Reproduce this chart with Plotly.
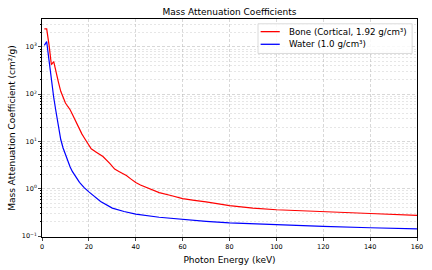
import plotly.graph_objects as go

bone_energy = [1, 2, 3, 4, 5, 6, 7, 8, 9, 10, 11, 12, 13, 14, 15, 16, 17, 18,
               20, 21, 23, 26, 29, 31, 33, 36, 38, 40, 42, 45, 50, 55, 60, 65, 70,
               80, 90, 100, 120, 140, 160]
bone_mu = [2400, 2400, 1100, 420, 490, 280, 180, 115, 85, 65, 55, 47, 37, 29, 22, 17.5, 14.5, 12,
           8.5, 7.0, 6.0, 4.8, 3.4, 2.6, 2.3, 1.9, 1.6, 1.35, 1.2, 1.05, 0.83, 0.72, 0.62, 0.57, 0.53,
           0.44, 0.39, 0.36, 0.325, 0.30, 0.275]

water_energy = [1, 2, 3, 4, 5, 6, 7, 8, 9, 10, 11, 12, 13, 14, 15, 16, 18, 20, 25, 30,
                35, 40, 50, 60, 70, 80, 100, 120, 140, 160]
water_mu = [1080, 1290, 520, 200, 85, 42, 19, 11, 7.3, 5.2, 3.8, 2.9, 2.3, 1.9, 1.6, 1.37, 1.06, 0.86,
            0.54, 0.39, 0.33, 0.29, 0.25, 0.225, 0.205, 0.19, 0.172, 0.16, 0.15, 0.142]

series_names = ["Bone (Cortical, 1.92 g/cm³)", "Water (1.0 g/cm³)"]
series_colors = ["red", "blue"]
title_text = "Mass Attenuation Coefficients"
x_label = "Photon Energy (keV)"
y_label = "Mass Attenuation Coefficient (cm²/g)"
x_ticks = [0, 20, 40, 60, 80, 100, 120, 140, 160]
y_ticks = [0.1, 1, 10, 100, 1000]
y_ticktext = ["10<sup>−1</sup>", "10<sup>0</sup>", "10<sup>1</sup>", "10<sup>2</sup>", "10<sup>3</sup>"]

FONT = "DejaVu Sans"
fig = go.Figure()
for xs, ys, nm, col in [(bone_energy, bone_mu, series_names[0], series_colors[0]),
                        (water_energy, water_mu, series_names[1], series_colors[1])]:
    fig.add_trace(go.Scatter(x=xs, y=ys, mode="lines", name=nm, showlegend=False,
                             line=dict(color=col, width=1.2)))

# manual legend (matplotlib-like compact box)
fig.add_shape(type="rect", xref="paper", yref="paper", x0=0.576, x1=0.987, y0=0.842, y1=0.978,
              line=dict(color="#d0d0d0", width=0.8), fillcolor="rgba(255,255,255,0.85)",
              layer="above")
legend_y = [0.942, 0.884]
for nm, col, ly in zip(series_names, series_colors, legend_y):
    fig.add_shape(type="line", xref="paper", yref="paper", x0=0.583, x1=0.634, y0=ly, y1=ly,
                  line=dict(color=col, width=1.3), layer="above")
    fig.add_annotation(text=nm, xref="paper", yref="paper", x=0.652, y=ly, xanchor="left",
                       yanchor="middle", showarrow=False, font=dict(size=8.7, family=FONT))

grid_col = "rgba(190,190,190,0.6)"
minor_col = "rgba(200,200,200,0.45)"
fig.update_layout(
    width=432, height=270,
    margin=dict(l=42, r=15, t=19, b=33),
    paper_bgcolor="white", plot_bgcolor="white",
    font=dict(family=FONT, size=7, color="black"),
    title=dict(text=title_text, x=0.5, xref="paper", xanchor="center", y=0.955, yanchor="middle",
               font=dict(size=9, family=FONT)),
    showlegend=False,
    xaxis=dict(range=[0, 160], tickvals=x_ticks, ticks="outside", ticklen=3, tickwidth=0.8,
               showline=True, linecolor="black", linewidth=0.8, mirror=True,
               showgrid=True, gridcolor=grid_col, griddash="3px,2px", gridwidth=0.6,
               zeroline=False, automargin=False,
               title=dict(text=x_label, font=dict(size=9), standoff=6),
               tickfont=dict(size=6.5)),
    yaxis=dict(type="log", range=[-1.02, 3.59], tickvals=y_ticks, ticktext=y_ticktext,
               ticks="outside", ticklen=3, tickwidth=0.8,
               showline=True, linecolor="black", linewidth=0.8, mirror=True,
               showgrid=True, gridcolor=grid_col, griddash="3px,2px", gridwidth=0.6,
               minor=dict(showgrid=True, gridcolor=minor_col, griddash="2px,2px", gridwidth=0.5,
                          ticks="outside", ticklen=1.5, tickcolor="black",
                          tickvals=[m * 10 ** e for e in range(-1, 4) for m in range(2, 10)]),
               zeroline=False, automargin=False,
               title=dict(text=y_label, font=dict(size=9), standoff=4),
               tickfont=dict(size=6.5)),
)

fig.write_html("out.html", post_script="document.body.style.margin='0';",
               config={"displayModeBar": False})
